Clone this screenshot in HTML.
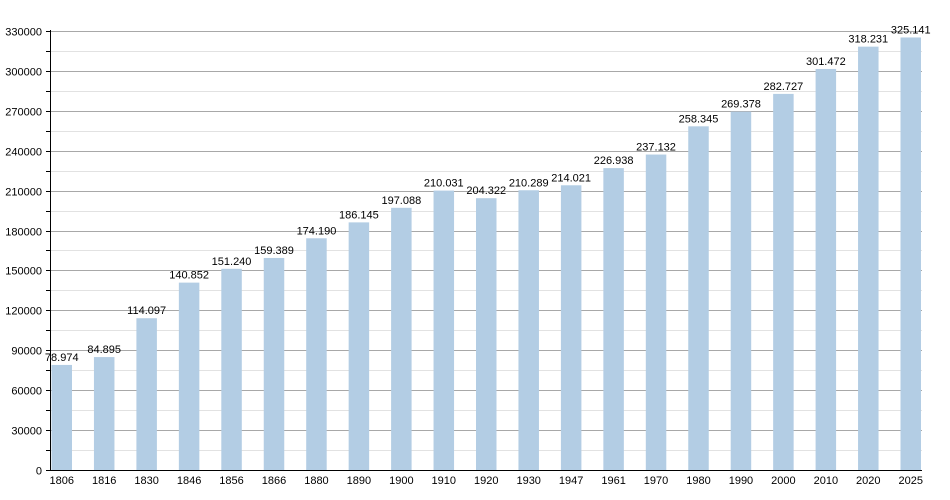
<!DOCTYPE html>
<html><head><style>body{margin:0;background:#fff}svg{display:block;font-family:"Liberation Sans",sans-serif;font-size:11px}</style></head><body>
<svg width="950" height="500" xmlns="http://www.w3.org/2000/svg">
<g id="grid"></g>
<g id="bars"></g>
<line x1="50.5" y1="30" x2="50.5" y2="471" stroke="#000"/>
<line x1="50" y1="470.5" x2="922" y2="470.5" stroke="#000"/>
<g id="yt" text-anchor="end"></g>
<g id="xt" text-anchor="middle"></g>
<script>
var ns="http://www.w3.org/2000/svg";
function el(p,t,a,txt){var e=document.createElementNS(ns,t);for(var k in a)e.setAttribute(k,a[k]);if(txt)e.textContent=txt;document.getElementById(p).appendChild(e);}
var k=439/330000;
for(var v=0;v<=330000;v+=15000){var y=Math.round(470-v*k)+0.5;var major=v%30000==0;
 if(v>0)el("grid","line",{x1:51,x2:922,y1:y,y2:y,stroke:major?"#a8a8a8":"#e2e2e2"});
 el("grid","line",{x1:46,x2:50,y1:y,y2:y,stroke:"#000"});
 if(major)el("yt","text",{x:42,y:y+4},String(v));}
var yrs=[1806,1816,1830,1846,1856,1866,1880,1890,1900,1910,1920,1930,1947,1961,1970,1980,1990,2000,2010,2020,2025];
var vals=[78974,84895,114097,140852,151240,159389,174190,186145,197088,210031,204322,210289,214021,226938,237132,258345,269378,282727,301472,318231,325141];
for(var i=0;i<21;i++){var x=51.5+i*42.45,h=vals[i]*k;
 el("bars","rect",{x:x,y:470-h,width:20.5,height:h,fill:"#b3cde4"});
 var s=String(vals[i]);s=s.slice(0,s.length-3)+"."+s.slice(-3);
 el("xt","text",{x:x+10.25,y:470-h-4},s);
 el("xt","text",{x:x+10.25,y:484},String(yrs[i]));}
</script>
</svg>
</body></html>
